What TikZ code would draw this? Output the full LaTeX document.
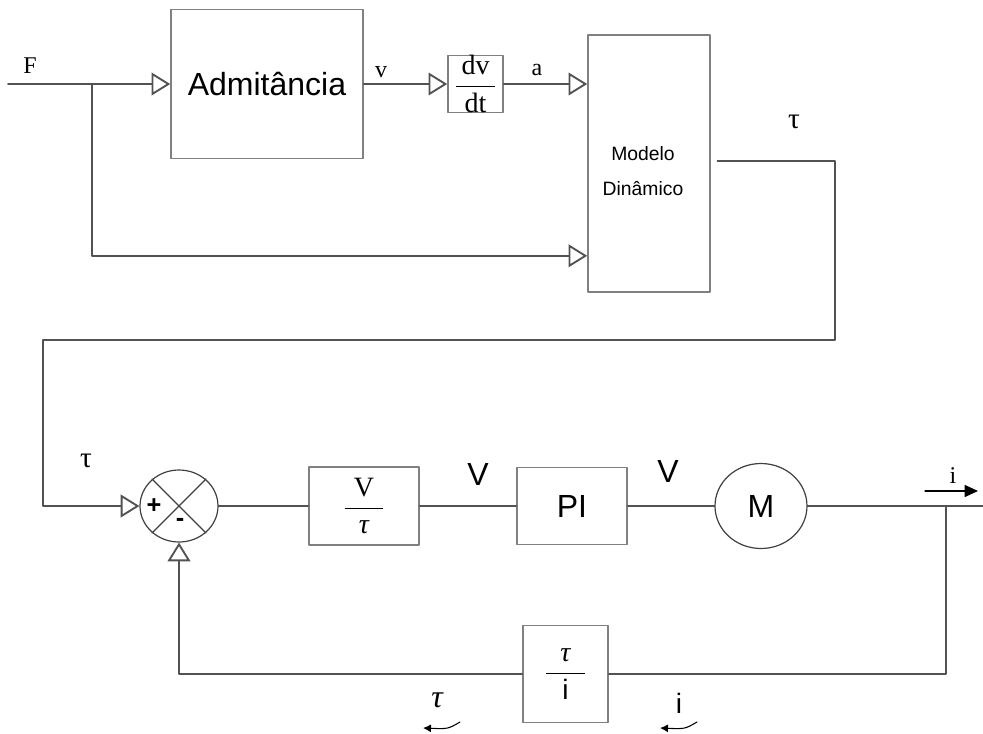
\documentclass[tikz,border=0pt]{standalone}
\usepackage{fontspec}
\setmainfont{Liberation Sans}
\newfontfamily\timesfont{Liberation Serif}
\usetikzlibrary{arrows.meta,shapes.geometric}

\begin{document}
\begin{tikzpicture}[x=0.75pt, y=-0.75pt, line cap=round, line join=round,
  sig/.style={draw=black!68, line width=1.4pt},
  tri/.style={-{Triangle[open,length=14pt,width=17pt]}},
  bloco/.style={draw=black!50, line width=1.2pt, inner sep=0pt},
  redondo/.style={ellipse, draw=black!75, line width=0.9pt, inner sep=0pt},
  rotulo/.style={inner sep=0pt, font=\timesfont\fontsize{18}{20}\selectfont},
  letratau/.style={inner sep=0pt, font=\timesfont\fontsize{22}{24}\selectfont},
  grande/.style={font=\fontsize{24}{28}\selectfont}]
  \useasboundingbox (0,0) rectangle (983,733);
  % blocos de cima
  \node[bloco, grande, minimum width=144pt, minimum height=111.75pt] (adm) at (267,84) {Admitância};
  \node[bloco, minimum width=41.25pt, minimum height=41.25pt] (deriv) at (475.5,84)
    {\fontsize{21}{22}\selectfont$\displaystyle\frac{\hbox to 29pt{\hss\timesfont dv\hss}}{\hbox{\timesfont dt}}$};
  \node[bloco, minimum width=91.5pt, minimum height=192.75pt] (modelo) at (649,163.5) {};
  \node[align=center, font=\fontsize{14.5}{26}\selectfont] (tmodelo) at (643,171) {Modelo\\Dinâmico};
  % blocos de baixo
  \node[redondo, minimum width=58.5pt, minimum height=54pt] (sum) at (179,506) {};
  \node[bloco, minimum width=82.5pt, minimum height=58.5pt] (gain) at (364,506)
    {\fontsize{21}{22}\selectfont$\displaystyle\frac{\hbox to 29pt{\hss\timesfont V\hss}}{\hbox{\timesfont\itshape τ}}$};
  \node[bloco, grande, minimum width=82.5pt, minimum height=57.75pt] (pi) at (572,506) {PI};
  \node[redondo, grande, minimum width=69pt, minimum height=63.75pt] (motor) at (761,506) {M};
  \node[bloco, minimum width=63.75pt, minimum height=72.75pt] (conv) at (565.5,674)
    {\fontsize{21}{22}\selectfont$\displaystyle\frac{\hbox{\timesfont\itshape τ}}{\hbox to 29pt{\hss i\hss}}$};
  % o somador
  \draw[black!75, line width=0.9pt] (sum.135) -- (sum.-45) (sum.45) -- (sum.-135);
  \node[font=\bfseries\fontsize{19}{19}\selectfont] (mais) at (154,506) {+};
  \node[font=\bfseries\fontsize{19}{19}\selectfont] (menos) at (180,522) {-};
  % ligacoes de cima
  \coordinate (fin) at (8,84);
  \coordinate (split) at (92,84);
  \draw[sig, tri] (fin) -- (adm.west);
  \draw[sig, tri] (adm.east) -- (deriv.west);
  \draw[sig, tri] (deriv.east) -- (deriv.east -| modelo.west);
  \draw[sig, tri] (split) |- ([yshift=27.75pt]modelo.south west);
  % o retorno de tau
  \coordinate (c1) at (835,340);
  \coordinate (c2) at (43,340);
  \draw[sig, tri] ([xshift=5pt,yshift=2pt]modelo.east) -| (c1) -- (c2) |- (sum.west);
  % ligacoes de baixo
  \coordinate (iout) at (983,506);
  \coordinate (tap) at (946,506);
  \draw[sig] (sum.east) -- (gain.west);
  \draw[sig] (gain.east) -- (pi.west);
  \draw[sig] (pi.east) -- (motor.west);
  \draw[sig] (motor.east) -- (iout);
  \draw[sig] (tap) |- (conv.east);
  \draw[sig, tri] (conv.west) -| (sum.south);
  % os rotulos
  \node[rotulo] (lF) at (30,66) {F};
  \node[rotulo] (lv) at (381,72) {v};
  \node[rotulo] (la) at (537,70) {a};
  \node[letratau] (ltau1) at (794,122) {τ};
  \node[letratau] (ltau2) at (86,461) {τ};
  \node[grande] (lV1) at (478,474) {V};
  \node[grande] (lV2) at (668,471) {V};
  \node[rotulo] (li1) at (953,476) {i};
  \node[font=\timesfont\itshape\fontsize{24}{26}\selectfont] (ltau3) at (437,700) {τ};
  \node[font=\fontsize{21}{22}\selectfont] (li2) at (679,703) {i};
  % as setinhas
  \draw[black, line width=0.8pt, -{Triangle[length=10pt,width=9pt]}] (925,491) -- (978,491);
  \draw[black, line width=0.8pt, -{Latex[length=6pt,width=6pt]}] (460,722) .. controls (448,729) .. (423,728);
  \draw[black, line width=0.8pt, -{Latex[length=6pt,width=6pt]}] (697,722) .. controls (685,729) .. (660,728);
\end{tikzpicture}
\end{document}
